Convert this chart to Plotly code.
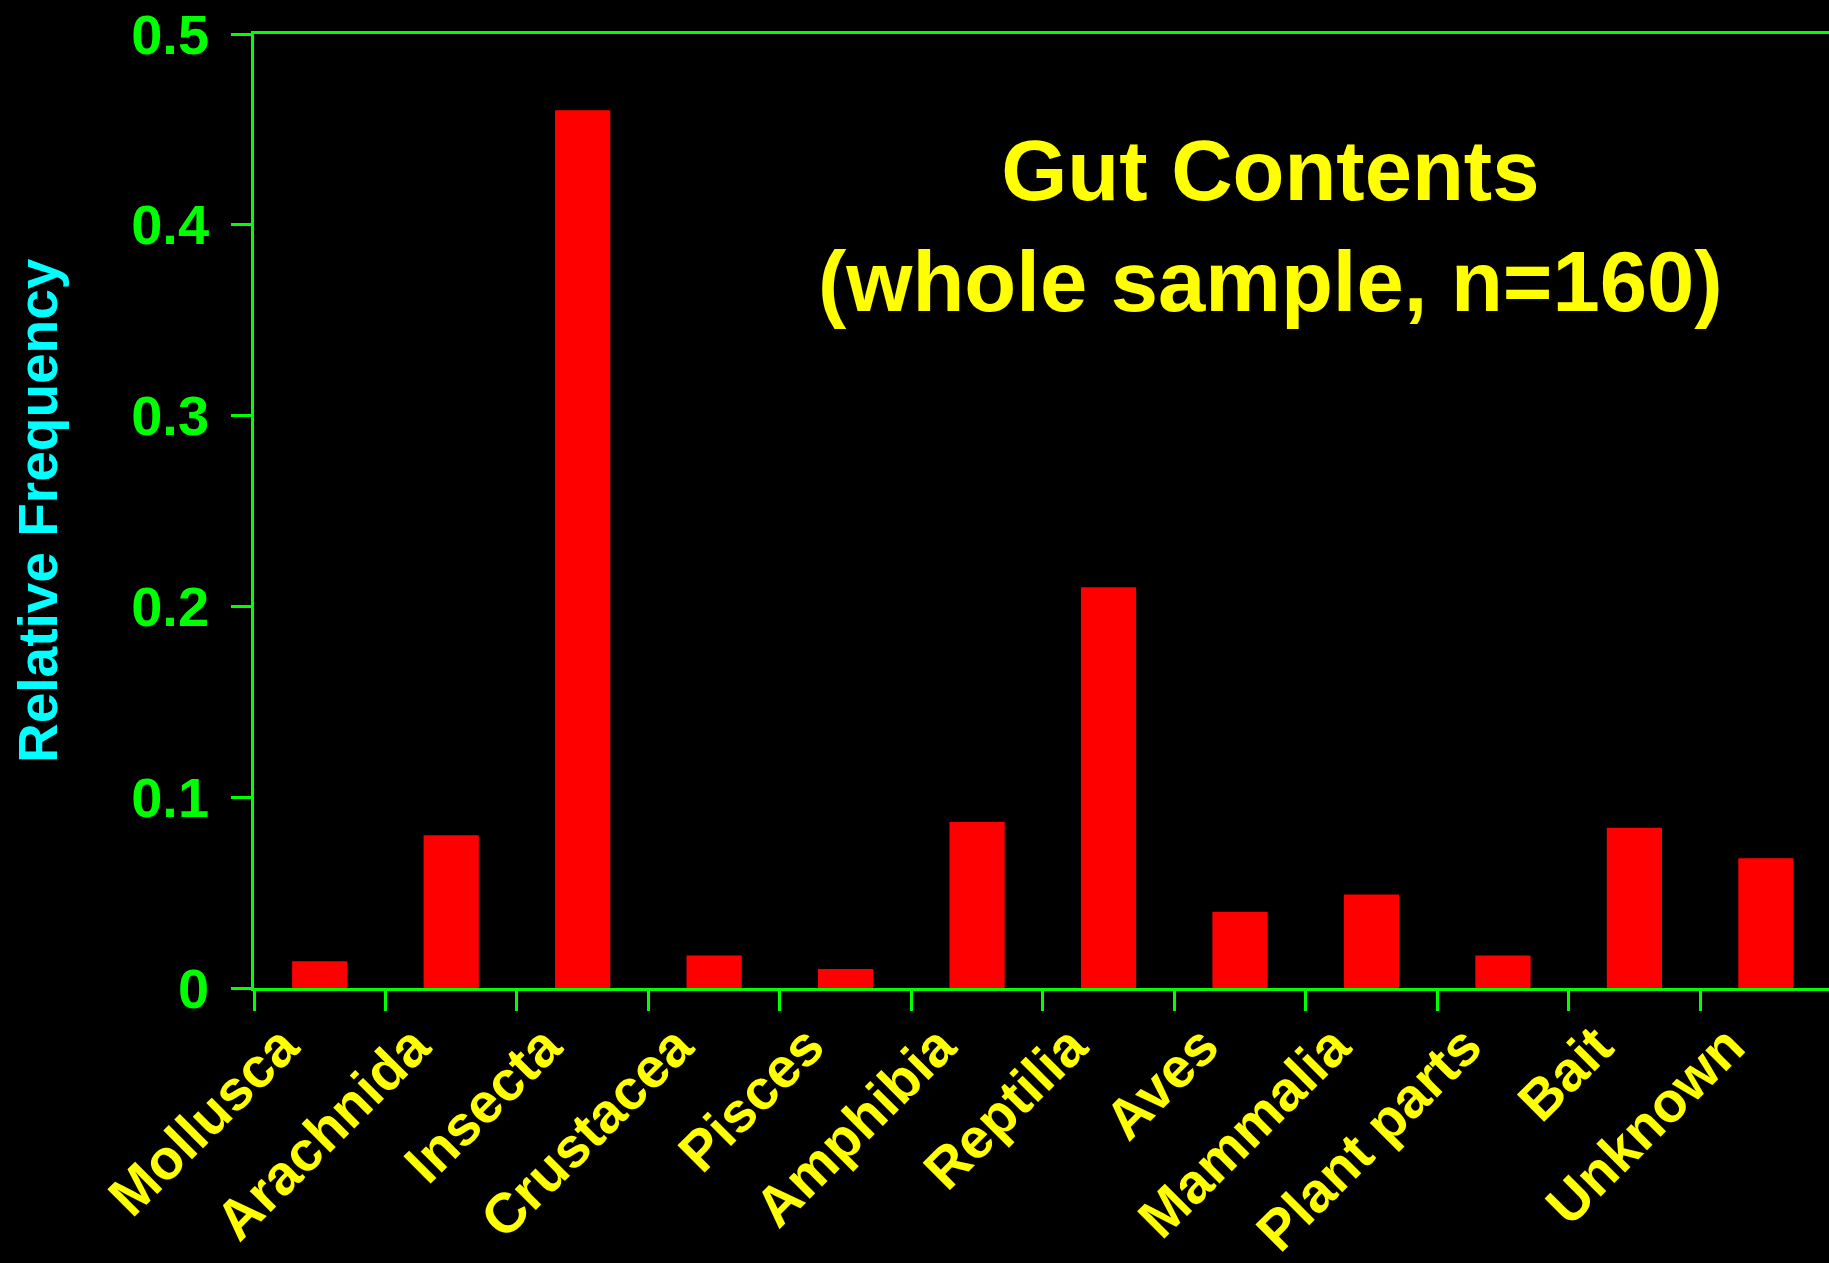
import plotly.graph_objects as go

categories = ["Mollusca", "Arachnida", "Insecta", "Crustacea", "Pisces", "Amphibia",
              "Reptilia", "Aves", "Mammalia", "Plant parts", "Bait", "Unknown"]
rel_freq = [0.014, 0.080, 0.460, 0.017, 0.010, 0.087, 0.210, 0.040, 0.049, 0.017, 0.084, 0.068]
y_ticks = [0, 0.1, 0.2, 0.3, 0.4, 0.5]
y_tick_labels = ["0", "0.1", "0.2", "0.3", "0.4", "0.5"]

GREEN = "#00FF00"
YELLOW = "#FFFF00"
CYAN = "#00FFFF"
RED = "#FF0000"
FONT = "Liberation Sans, Arial, sans-serif"

W, H = 1829, 1263
ML, MR, MT, MB = 254, 0, 34, 275

fig = go.Figure(go.Bar(x=categories, y=rel_freq, marker=dict(color=RED, line=dict(width=0)),
                       hoverinfo="skip"))

fig.update_layout(
    width=W, height=H,
    margin=dict(l=ML, r=MR, t=MT, b=MB, pad=0, autoexpand=False),
    paper_bgcolor="black", plot_bgcolor="black",
    bargap=0.58,
    showlegend=False,
    font=dict(family=FONT, weight="bold"),
)

fig.update_xaxes(
    type="category",
    range=[-0.5, 11.48],
    automargin=False,
    tickson="boundaries",
    ticks="outside", ticklen=20, tickwidth=2.5, tickcolor=GREEN,
    showline=True, linecolor=GREEN, linewidth=2.5, mirror=True,
    showgrid=False, zeroline=False,
    tickangle=-45,
    ticklabelshift=-38,
    tickfont=dict(family=FONT, size=56, color=YELLOW, weight="bold"),
)

fig.update_yaxes(
    range=[0, 0.5],
    automargin=False,
    tickvals=y_ticks, ticktext=y_tick_labels,
    ticks="outside", ticklen=20, tickwidth=2.5, tickcolor=GREEN,
    showline=True, linecolor=GREEN, linewidth=2.5,
    showgrid=False, zeroline=False,
    ticklabelstandoff=11,
    tickfont=dict(family=FONT, size=56, color=GREEN, weight="bold"),
)

plot_w = W - ML - MR
plot_h = H - MT - MB

fig.add_annotation(
    text="Relative Frequency",
    xref="paper", yref="paper",
    x=(38 - ML) / plot_w, y=0.5,
    xanchor="center", yanchor="middle",
    textangle=-90, showarrow=False,
    font=dict(family=FONT, size=55, color=CYAN, weight="bold"),
)

fig.add_annotation(
    text="Gut Contents<br>(whole sample, n=160)",
    xref="paper", yref="paper",
    x=(1270 - ML) / plot_w, y=(988 - 226) / plot_h,
    xanchor="center", yanchor="middle",
    showarrow=False, align="center",
    font=dict(family=FONT, size=85, color=YELLOW, weight="bold"),
)

fig.write_html(
    "out.html",
    config={"displayModeBar": False},
    post_script="document.body.style.margin='0';document.body.style.background='black';",
)
